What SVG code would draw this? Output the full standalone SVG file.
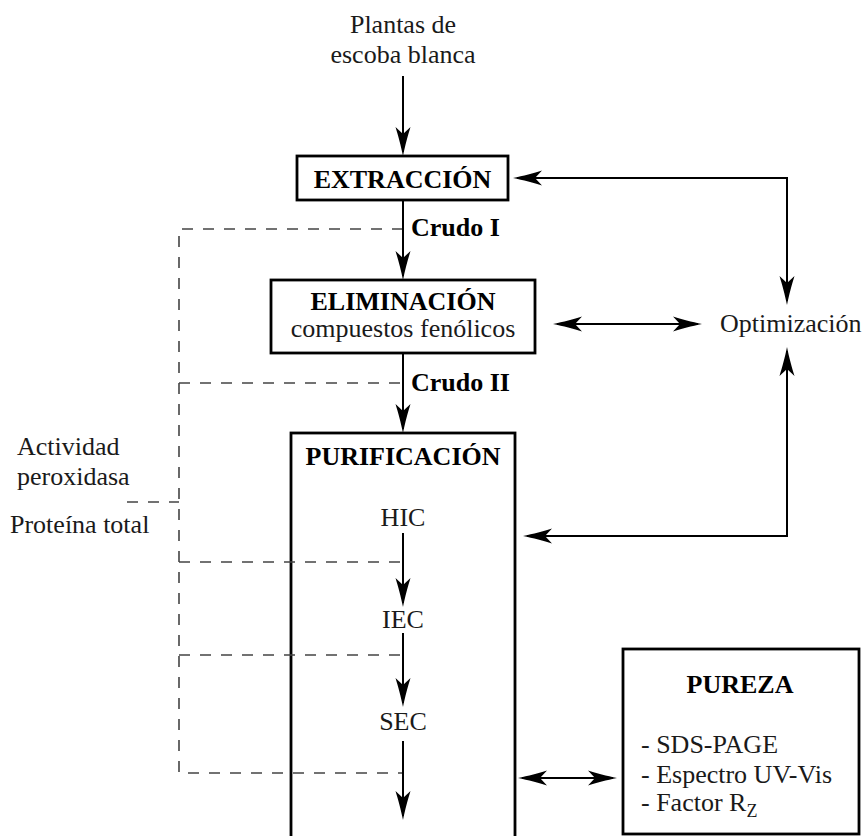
<svg xmlns="http://www.w3.org/2000/svg" width="866" height="836" viewBox="0 0 866 836">
  <style>
    .t { font-family: "Liberation Serif", "Times New Roman", serif; font-size: 26px; fill: #1a1a1a; }
    .b { font-family: "Liberation Serif", "Times New Roman", serif; font-size: 26px; font-weight: bold; fill: #000; }
    .c { text-anchor: middle; }
    .box { fill: none; stroke: #000; stroke-width: 2.8; }
    .arrow { fill: none; stroke: #000; stroke-width: 2; marker-end: url(#ah); }
    .dbl { fill: none; stroke: #000; stroke-width: 2; marker-start: url(#ah); marker-end: url(#ah); }
    .dash { fill: none; stroke: #444; stroke-width: 1.6; stroke-dasharray: 11 10; }
  </style>
  <defs>
    <marker id="ah" markerUnits="userSpaceOnUse" markerWidth="40" markerHeight="20" viewBox="-30 -10 40 20" refX="0" refY="0" orient="auto-start-reverse">
      <path d="M4,0 C-6,-2 -17,-5 -25,-7.5 L-18,0 L-25,7.5 C-17,5 -6,2 4,0 Z" fill="#000"/>
    </marker>
  </defs>
  <rect width="866" height="836" fill="#fff"/>

  <g id="source">
    <text class="t c" x="403" y="33">Plantas de</text>
    <text class="t c" x="403" y="63">escoba blanca</text>
  </g>

  <g id="extraccion">
    <rect class="box" x="297" y="156" width="211" height="44"/>
    <text class="b c" x="402.5" y="188">EXTRACCIÓN</text>
  </g>

  <g id="crudo1">
    <text class="b" x="411" y="236">Crudo I</text>
  </g>

  <g id="eliminacion">
    <rect class="box" x="271" y="280" width="264" height="73"/>
    <text class="b c" x="403" y="310">ELIMINACIÓN</text>
    <text class="t c" x="403" y="337">compuestos fenólicos</text>
  </g>

  <g id="crudo2">
    <text class="b" x="411" y="391">Crudo II</text>
  </g>

  <g id="purificacion">
    <rect class="box" x="291" y="433" width="224" height="430"/>
    <text class="b c" x="403" y="465">PURIFICACIÓN</text>
    <text class="t c" x="403" y="526">HIC</text>
    <text class="t c" x="403" y="628">IEC</text>
    <text class="t c" x="403" y="730">SEC</text>
  </g>

  <g id="optimizacion">
    <text class="t" x="720" y="332">Optimización</text>
  </g>

  <g id="mediciones">
    <text class="t" x="17" y="455">Actividad</text>
    <text class="t" x="17" y="485">peroxidasa</text>
    <text class="t" x="10" y="533">Proteína total</text>
  </g>

  <g id="pureza">
    <rect class="box" x="623" y="649" width="236" height="185"/>
    <text class="b c" x="740" y="693">PUREZA</text>
    <text class="t" x="641" y="753">- SDS-PAGE</text>
    <text class="t" x="641" y="783">- Espectro UV-Vis</text>
    <text class="t" x="641" y="811">- Factor R<tspan font-size="18" dy="6">Z</tspan></text>
  </g>

  <g id="connectors">
    <path class="dash" d="M403,229 H179 V773 H403 M179,383 H403 M179,562 H403 M179,655 H403 M127,502 H179"/>
    <path class="arrow" d="M403,76 V152"/>
    <path class="arrow" d="M403,200 V276"/>
    <path class="arrow" d="M403,353 V429"/>
    <path class="arrow" d="M403,533 V603"/>
    <path class="arrow" d="M403,633 V703"/>
    <path class="arrow" d="M403,741 V816"/>
    <path class="dbl" d="M517,178 H787 V301"/>
    <path class="dbl" d="M557,324 H698"/>
    <path class="dbl" d="M787,351 V536 H527"/>
    <path class="dbl" d="M522,778 H613"/>
  </g>
</svg>
